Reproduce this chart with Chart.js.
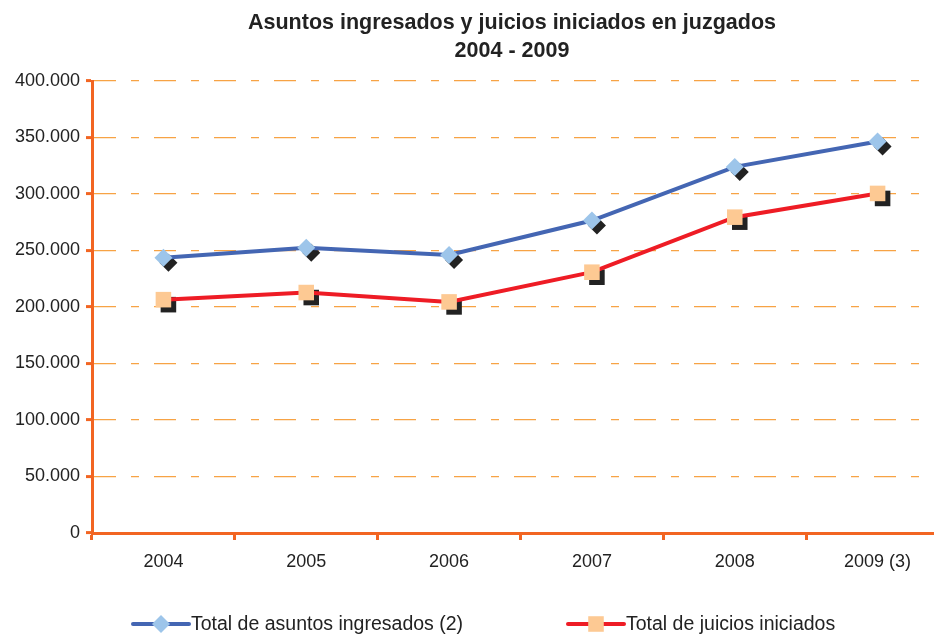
<!DOCTYPE html>
<html>
<head>
<meta charset="utf-8">
<script src="https://cdn.jsdelivr.net/npm/chart.js@4"></script>
<style>
  body { margin: 0; overflow: hidden; background: #fff; }
  canvas { display: block; }
</style>
</head>
<body>
<canvas id="myChart" width="960" height="635"></canvas>
<script>
const categories = ['2004', '2005', '2006', '2007', '2008', '2009 (3)'];
const asuntosIngresados = [243500, 252500, 246000, 276500, 324000, 346500];
const juiciosIniciados = [206500, 212800, 204500, 230800, 279500, 300500];
const titleLines = ['Asuntos ingresados y juicios iniciados en juzgados', '2004 - 2009'];
const seriesNames = ['Total de asuntos ingresados (2)', 'Total de juicios iniciados'];

const FONT = '"Liberation Sans", Arial, Helvetica, sans-serif';
const axisColor = '#f26522';
const gridColor = '#f7a345';

// dark shadow behind each marker
const markerShadow = {
    id: 'markerShadow',
    beforeDatasetsDraw(chart) {
        const ctx = chart.ctx;
        ctx.save();
        chart.data.datasets.forEach((ds, i) => {
            const meta = chart.getDatasetMeta(i);
            ctx.fillStyle = '#222';
            meta.data.forEach(pt => {
                Chart.helpers.drawPoint(ctx, { pointStyle: ds.pointStyle, radius: ds.pointRadius, borderWidth: 0, rotation: 0 }, pt.x + 5, pt.y + 5);
            });
        });
        ctx.restore();
    }
};

// title centred over the plot and legend with line + marker
const titleAndLegend = {
    id: 'titleAndLegend',
    afterDraw(chart) {
        const ctx = chart.ctx;
        ctx.save();
        ctx.fillStyle = '#222';
        ctx.font = 'bold 21.5px ' + FONT;
        ctx.textAlign = 'center';
        ctx.textBaseline = 'middle';
        ctx.fillText(titleLines[0], 512, 23);
        ctx.fillText(titleLines[1], 512, 51);

        const legendPos = [133, 568];
        chart.data.datasets.forEach((ds, i) => {
            const x0 = legendPos[i];
            const y = 624;
            ctx.strokeStyle = ds.borderColor;
            ctx.lineWidth = 4;
            ctx.lineCap = 'round';
            ctx.beginPath();
            ctx.moveTo(x0, y);
            ctx.lineTo(x0 + 56, y);
            ctx.stroke();
            ctx.fillStyle = ds.pointBackgroundColor;
            Chart.helpers.drawPoint(ctx, { pointStyle: ds.pointStyle, radius: ds.pointRadius, borderWidth: 0, rotation: 0 }, x0 + 28, y);
            ctx.fillStyle = '#222';
            ctx.font = '19.5px ' + FONT;
            ctx.textAlign = 'left';
            ctx.fillText(seriesNames[i], x0 + 58, y + 1);
        });
        ctx.restore();
    }
};

const ctx = document.getElementById('myChart').getContext('2d');
const myChart = new Chart(ctx, {
    type: 'line',
    data: {
        labels: categories,
        datasets: [{
            label: seriesNames[0],
            data: asuntosIngresados,
            borderColor: '#4466b3',
            borderWidth: 4,
            pointStyle: 'rectRot',
            pointRadius: 9,
            pointBackgroundColor: '#9dc5ea',
            pointBorderWidth: 0,
            tension: 0
        }, {
            label: seriesNames[1],
            data: juiciosIniciados,
            borderColor: '#ee1c25',
            borderWidth: 4,
            pointStyle: 'rect',
            pointRadius: 11,
            pointBackgroundColor: '#fdc993',
            pointBorderWidth: 0,
            tension: 0
        }]
    },
    options: {
        responsive: false,
        animation: false,
        layout: { padding: { top: 81, right: 4, left: 0, bottom: 0 } },
        plugins: {
            legend: { display: false },
            title: { display: false },
            tooltip: { enabled: false }
        },
        scales: {
            x: {
                offset: true,
                afterFit: function(scale) { scale.height = 102; },
                border: { color: axisColor, width: 3 },
                grid: {
                    offset: true,
                    drawOnChartArea: false,
                    tickLength: 7,
                    tickColor: axisColor,
                    tickWidth: 3
                },
                ticks: {
                    color: '#222',
                    padding: 11,
                    font: { family: FONT, size: 18 }
                }
            },
            y: {
                min: 0,
                max: 400000,
                afterFit: function(scale) { scale.width = 92; },
                border: { color: axisColor, width: 3, dash: [22, 15, 8, 15] },
                grid: {
                    color: gridColor,
                    lineWidth: 1.2,
                    tickLength: 6,
                    tickColor: axisColor,
                    tickWidth: 3,
                    tickBorderDash: []
                },
                ticks: {
                    stepSize: 50000,
                    color: '#222',
                    padding: 6,
                    font: { family: FONT, size: 18 },
                    callback: function(value) {
                        return value.toString().replace(/\B(?=(\d{3})+(?!\d))/g, '.');
                    }
                }
            }
        }
    },
    plugins: [markerShadow, titleAndLegend]
});
</script>
</body>
</html>
